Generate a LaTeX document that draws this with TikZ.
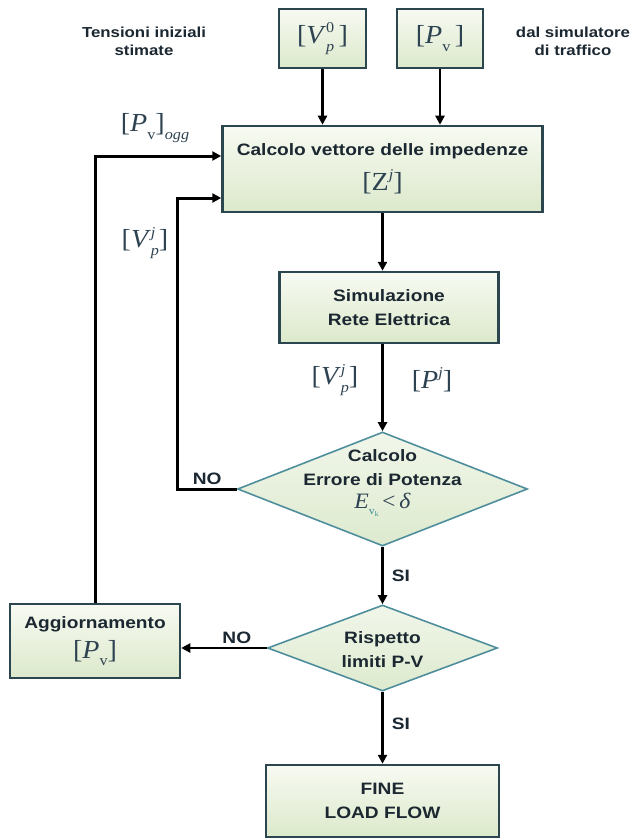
\documentclass[tikz,border=0pt]{standalone}
\usepackage{fontspec}
\usetikzlibrary{arrows.meta,shapes.geometric}
\newfontfamily\lab{Liberation Sans}[FakeStretch=1.16]
\newfontfamily\mth{Liberation Serif}[FakeStretch=1.08]
\definecolor{boxline}{HTML}{2C4650}
\definecolor{diamline}{HTML}{4F8E9C}
\definecolor{boxtop}{HTML}{F7FAF2}
\definecolor{boxbot}{HTML}{DCE9CB}
\definecolor{dtop}{HTML}{F1F6EA}
\definecolor{dbot}{HTML}{DDEACE}
\definecolor{txt}{HTML}{1B2731}
\definecolor{mcol}{HTML}{2E4352}
\definecolor{subcol}{HTML}{3C8C96}
\newcommand\labfont{\lab\bfseries\fontsize{16.5}{24}\selectfont}
\newcommand\topfont{\lab\bfseries\fontsize{14.5}{18}\selectfont}
\newcommand\mfont{\mth\mdseries\color{mcol}\fontsize{26}{28}\selectfont}
\newcommand\ssc{\fontsize{15}{15}\selectfont}
\newcommand\SupSub[2]{\mbox{\rlap{\raisebox{0.42em}{\ssc #1}}\raisebox{-0.3em}{\ssc #2}}}
\begin{document}
\begin{tikzpicture}[x=1pt,y=-1pt,
  bx/.style={draw=boxline, line width=2.5pt, top color=boxtop, bottom color=boxbot,
    align=center, text=txt, inner sep=0pt, font=\labfont},
  dm/.style={diamond, draw=diamline, line width=1.6pt, top color=dtop, bottom color=dbot,
    inner sep=0pt},
  lbl/.style={text=txt, align=center, inner sep=0pt},
  arr/.style={draw=black, line width=2.6pt, -{Triangle[length=9pt,width=9pt]}},
  looparr/.style={draw=black, line width=3pt, -{Triangle[length=9pt,width=9pt]}}
]
\useasboundingbox (0,0) rectangle (632,840);

% top labels
\node[lbl, font=\topfont] (tens) at (144,41) {Tensioni iniziali\\stimate};
\node[lbl, font=\topfont] (dal) at (573,41) {dal simulatore\\di traffico};

% boxes
\node[bx, minimum width=87pt, minimum height=59pt] (vp0) at (322.5,38.5)
  {\mfont [\textit{V}\SupSub{0}{\textit{p}}\,]};
\node[bx, minimum width=86pt, minimum height=59pt] (pv) at (440,38.5)
  {\mfont [\textit{P}\raisebox{-0.3em}{\ssc v}\,]};
\node[bx, minimum width=320pt, minimum height=86pt] (calc) at (382.5,169)
  {Calcolo vettore delle impedenze\\[10pt]{\mfont [Z\raisebox{0.42em}{\ssc\textit{j}}]}};
\node[bx, minimum width=219pt, minimum height=71pt] (sim) at (389,307.5)
  {Simulazione\\Rete Elettrica};
\node[dm, minimum width=290pt, minimum height=114pt] (d1) at (382.5,489) {};
\node[lbl, font=\labfont] (d1t) at (382.5,483)
  {Calcolo\\Errore di Potenza\\[-1pt]{\mth\mdseries\color{mcol}\fontsize{22}{24}\selectfont \textit{E}\raisebox{-0.3em}{\fontsize{11}{11}\selectfont\color{subcol}v\raisebox{-0.15em}{\fontsize{7}{7}\selectfont k}}\,{<}\,\textit{δ}}};
\node[dm, minimum width=230pt, minimum height=86pt] (d2) at (382.5,648) {};
\node[lbl, font=\labfont] (d2t) at (382.5,650) {Rispetto\\limiti P-V};
\node[bx, minimum width=170pt, minimum height=74pt] (agg) at (95,641)
  {Aggiornamento\\[6pt]{\mfont [\textit{P}\raisebox{-0.3em}{\ssc v}]}};
\node[bx, minimum width=233pt, minimum height=72pt] (fine) at (382.5,801)
  {FINE\\LOAD FLOW};

% free labels
\node[lbl] (pvogg) at (155,128)
  {\mfont [\textit{P}\raisebox{-0.3em}{\ssc v}]\raisebox{-0.3em}{\ssc\textit{ogg}}};
\node[lbl] (vpjl) at (145,243) {\mfont [\textit{V}\SupSub{\textit{j}}{\textit{p}}]};
\node[lbl] (vpjm) at (335,380) {\mfont [\textit{V}\SupSub{\textit{j}}{\textit{p}}]};
\node[lbl] (pj) at (432,380) {\mfont [\textit{P}\raisebox{0.42em}{\ssc\textit{j}}]};

% connectors
\draw[arr] (vp0.south) -- (vp0.south |- calc.north);
\draw[arr] (pv.south) -- (pv.south |- calc.north);
\draw[arr] (calc.south) -- (calc.south |- sim.north);
\draw[arr] (calc.south |- sim.south) -- (d1.north);
\draw[arr] (d1.south) -- (d2.north)
  node[lbl, font=\labfont, right=8pt, pos=0.5] (si1) {SI};
\draw[arr] (d2.south) -- (fine.north)
  node[lbl, font=\labfont, right=8pt, pos=0.45] (si2) {SI};
\draw[arr] (d2.west) -- (d2.west -| agg.east)
  node[lbl, font=\labfont, above=3pt, pos=0.35] (no2) {NO};
\draw[looparr] (agg.north) |- ([yshift=13pt]calc.west);
\draw[looparr] (d1.west) -- ++(-59,0)
  node[lbl, font=\labfont, above=3pt, pos=0.5] (no1) {NO}
  |- ([yshift=-29pt]calc.west);
\end{tikzpicture}
\end{document}
